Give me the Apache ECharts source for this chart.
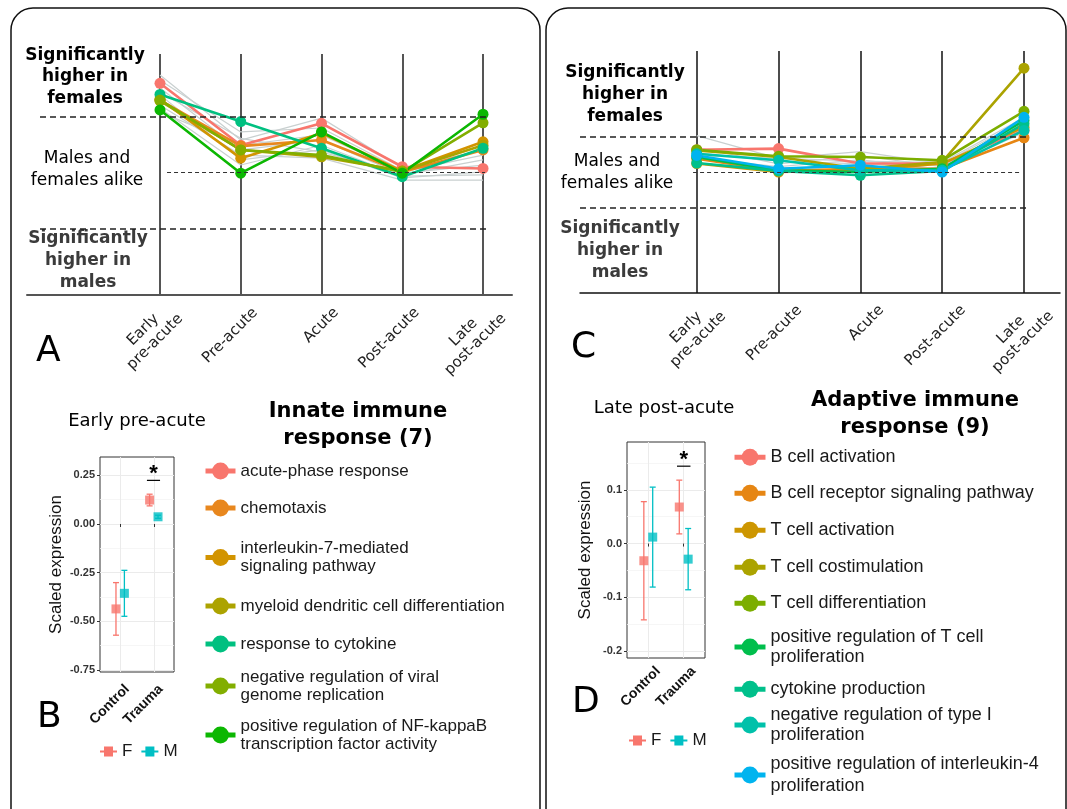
<!DOCTYPE html>
<html>
<head>
<meta charset="utf-8">
<script src="https://cdn.jsdelivr.net/npm/echarts@6/dist/echarts.min.js"></script>
<style>
html, body { margin: 0; padding: 0; background: #fff; }
#chart { width: 1067px; height: 809px; }
</style>
</head>
<body>
<div id="chart"></div>
<script>
// time points on the x axis of panels A and C
const stages = ['Early\npre-acute', 'Pre-acute', 'Acute', 'Post-acute', 'Late\npost-acute'];
// signed significance (-log10 p, + = higher in females), threshold at 1.3
const thresholds = [1.3, 0, -1.3];

const innateNames = [
  'acute-phase response',
  'chemotaxis',
  'interleukin-7-mediated\nsignaling pathway',
  'myeloid dendritic cell differentiation',
  'response to cytokine',
  'negative regulation of viral\ngenome replication',
  'positive regulation of NF-kappaB\ntranscription factor activity'
];
const innateColors = ['#F8766D', '#E8871E', '#D29400', '#ACA300', '#00C080', '#82AE00', '#0CB702'];
const innateValues = [
  [2.07, 0.63, 1.14, 0.13, 0.09],
  [1.68, 0.61, 0.75, 0.01, 0.52],
  [1.70, 0.33, 0.91, 0.03, 0.71],
  [1.66, 0.52, 0.36, 0.03, 0.63],
  [1.81, 1.18, 0.56, -0.10, 0.56],
  [1.68, 0.52, 0.40, 0.01, 1.15],
  [1.45, -0.02, 0.94, -0.02, 1.35]
];
const innateOther = [
  [2.26, 0.75, 1.26, 0.10, 0.52],
  [2.14, 0.94, 1.03, 0.05, 0.63],
  [1.96, 0.52, 0.75, -0.06, 0.29],
  [1.80, 0.29, 0.52, -0.13, 0.01],
  [1.56, 0.40, 0.33, -0.18, -0.18],
  [1.49, 0.17, 0.63, -0.09, -0.06],
  [1.40, 0.63, 0.87, 0.01, 0.40],
  [1.86, 0.79, 0.47, -0.02, 0.17]
];

const adaptiveNames = [
  'B cell activation',
  'B cell receptor signaling pathway',
  'T cell activation',
  'T cell costimulation',
  'T cell differentiation',
  'positive regulation of T cell\nproliferation',
  'cytokine production',
  'negative regulation of type I\nproliferation',
  'positive regulation of interleukin-4\nproliferation'
];
const adaptiveColors = ['#F8766D', '#E68613', '#CD9600', '#ABA300', '#7CAE00', '#00BE4C', '#00C08B', '#00C1AA', '#00B4EF'];
const adaptiveValues = [
  [0.82, 0.86, 0.31, 0.31, 1.53],
  [0.49, 0.04, 0.12, 0.12, 1.26],
  [0.31, 0.00, 0.06, 0.31, 1.65],
  [0.79, 0.55, 0.12, 0.37, 3.82],
  [0.82, 0.58, 0.55, 0.43, 2.23],
  [0.55, 0.06, 0.00, 0.12, 1.89],
  [0.33, 0.04, -0.12, 0.04, 1.77],
  [0.67, 0.43, 0.06, 0.06, 1.53],
  [0.61, 0.12, 0.25, 0.00, 2.01]
];
const adaptiveOther = [
  [1.34, 0.50, 0.75, 0.30, 1.90],
  [0.90, 0.30, 0.60, 0.20, 1.70],
  [0.70, 0.40, 0.30, 0.25, 1.60],
  [0.50, 0.20, 0.45, 0.10, 1.45],
  [0.30, 0.15, 0.20, 0.15, 1.80],
  [0.60, 0.50, 0.40, 0.35, 2.00]
];

// panels B and D: mean scaled expression +/- se
const groups = ['Control', 'Trauma'];
const sexes = ['F', 'M'];
const sexColors = ['#F8766D', '#00BFC4'];
const earlyF = [-0.436, 0.123];
const earlyFse = [0.135, 0.030];
const earlyM = [-0.356, 0.037];
const earlyMse = [0.118, 0.008];
const lateF = [-0.032, 0.068];
const lateFse = [0.110, 0.050];
const lateM = [0.012, -0.029];
const lateMse = [0.093, 0.057];
// significance bar: [centre, height, half width]
const sigEarly = [[1.99, 0.224, 0.195]];
const sigLate = [[2.0, 0.144, 0.19]];

const DV = 'DejaVu Sans';
const LS = 'Liberation Sans';

let chart = echarts.init(document.getElementById('chart'));

// centre the lines of two-line stage labels on each other
const measure = document.createElement('canvas').getContext('2d');
measure.font = '15px "DejaVu Sans"';
const stageRich = {};
stages.forEach(function (s, i) {
  const w = Math.max.apply(null, s.split('\n').map(function (l) { return measure.measureText(l).width; }));
  stageRich['s' + i] = { width: Math.ceil(w), align: 'center', fontFamily: DV, fontSize: 15, lineHeight: 17, color: '#222' };
});

function stageX(gridIndex, min, max, color, width, margin, shift) {
  return {
    gridIndex: gridIndex, type: 'value', min: min, max: max, position: 'bottom',
    axisLine: { show: true, onZero: false, lineStyle: { color: color, width: width } },
    axisTick: { show: false, customValues: [1, 2, 3, 4, 5] },
    axisLabel: {
      customValues: [1, 2, 3, 4, 5],
      formatter: function (v) {
        const i = Math.round(v) - 1;
        return stages[i].split('\n').map(function (l) { return '{s' + i + '|' + l + '}'; }).join('\n');
      },
      rich: stageRich,
      rotate: 45, margin: margin, padding: [0, -shift, 0, 0],
      fontFamily: DV, fontSize: 15, lineHeight: 17, color: '#222'
    },
    splitLine: { show: true, lineStyle: { color: color, width: width } }
  };
}

function groupX(gridIndex, margin, shift) {
  return {
    gridIndex: gridIndex, type: 'value', min: 0.4, max: 2.6,
    axisLine: { show: false },
    axisTick: { show: true, length: 3, customValues: [1, 2], lineStyle: { color: '#333' } },
    axisLabel: {
      customValues: [1, 2],
      formatter: function (v) { return groups[Math.round(v) - 1]; },
      rotate: 45, margin: margin, padding: [0, -shift, 0, 0],
      fontFamily: LS, fontSize: 14, fontWeight: 'bold', color: '#111'
    },
    splitLine: { show: true, lineStyle: { color: '#ebebeb', width: 1 } }
  };
}

function exprY(gridIndex, min, max, ticks, digits, gap) {
  return {
    gridIndex: gridIndex, type: 'value', min: min, max: max,
    name: 'Scaled expression', nameLocation: 'middle', nameGap: gap, nameRotate: 90,
    nameTextStyle: { fontFamily: LS, fontSize: 17, color: '#111' },
    axisLine: { show: false },
    axisTick: { show: true, length: 3, customValues: ticks, lineStyle: { color: '#333' } },
    axisLabel: {
      customValues: ticks, margin: 5,
      formatter: function (v) { return v.toFixed(digits); },
      fontFamily: LS, fontSize: 11, fontWeight: 'bold', color: '#333'
    },
    splitLine: { show: true, lineStyle: { color: '#ebebeb', width: 1 } }
  };
}

function minorY(gridIndex, min, max, ticks) {
  return {
    gridIndex: gridIndex, type: 'value', min: min, max: max, position: 'right',
    axisLine: { show: false },
    axisTick: { show: false, customValues: ticks },
    axisLabel: { show: false, customValues: ticks },
    splitLine: { show: true, lineStyle: { color: '#f4f4f4', width: 0.8 } }
  };
}

function trendSeries(name, vals, color, axis, grey) {
  return {
    type: 'line', name: name, xAxisIndex: axis, yAxisIndex: axis,
    data: vals.map(function (v, i) { return [i + 1, v]; }),
    symbol: grey ? 'none' : 'circle', symbolSize: 11,
    lineStyle: { color: color, width: grey ? 1.2 : 2.6 },
    itemStyle: { color: color },
    silent: grey, z: grey ? 2 : 3
  };
}

function refLines(spans) {
  const styles = [
    { type: [6, 4], width: 1.5, color: '#222' },
    { type: [4, 3], width: 1.2, color: '#333' },
    { type: [6, 4], width: 1.5, color: '#222' }
  ];
  return {
    silent: true, symbol: 'none', label: { show: false },
    data: thresholds.map(function (t, i) {
      return [{ coord: [spans[i][0], t], lineStyle: styles[i] }, { coord: [spans[i][1], t] }];
    })
  };
}

function renderErr(params, api) {
  const x = api.value(0);
  const p1 = api.coord([x, api.value(1)]);
  const p2 = api.coord([x, api.value(2)]);
  const w = 3;
  const style = { stroke: api.visual('color'), lineWidth: 1.3 };
  return {
    type: 'group', children: [
      { type: 'line', shape: { x1: p1[0], y1: p1[1], x2: p2[0], y2: p2[1] }, style: style },
      { type: 'line', shape: { x1: p1[0] - w, y1: p1[1], x2: p1[0] + w, y2: p1[1] }, style: style },
      { type: 'line', shape: { x1: p2[0] - w, y1: p2[1], x2: p2[0] + w, y2: p2[1] }, style: style }
    ]
  };
}

function renderSig(params, api) {
  const c = api.value(0), h = api.value(2);
  const a = api.coord([c - h, api.value(1)]);
  const b = api.coord([c + h, api.value(1)]);
  return {
    type: 'group', children: [
      { type: 'line', shape: { x1: a[0], y1: a[1], x2: b[0], y2: b[1] }, style: { stroke: '#000', lineWidth: 1.2 } },
      { type: 'text', style: { text: '*', x: (a[0] + b[0]) / 2, y: a[1] + 5, textAlign: 'center', textVerticalAlign: 'bottom', font: 'bold 22px ' + LS, fill: '#000' } }
    ]
  };
}

function sexSeries(axis, means, sig) {
  const out = [];
  const dodge = [-0.125, 0.125];
  means.forEach(function (m, s) {
    out.push({
      type: 'custom', name: sexes[s], xAxisIndex: axis, yAxisIndex: axis,
      renderItem: renderErr, itemStyle: { color: sexColors[s] },
      encode: { x: 0, y: [1, 2] },
      data: m[0].map(function (v, g) { return [g + 1 + dodge[s], v - m[1][g], v + m[1][g]]; }),
      z: 3
    });
  });
  means.forEach(function (m, s) {
    out.push({
      type: 'scatter', name: sexes[s], xAxisIndex: axis, yAxisIndex: axis,
      symbol: 'rect', symbolSize: 9, itemStyle: { color: sexColors[s] },
      data: m[0].map(function (v, g) { return [g + 1 + dodge[s], v]; }),
      z: 4
    });
  });
  out.push({
    type: 'custom', name: 'sig', xAxisIndex: axis, yAxisIndex: axis,
    renderItem: renderSig, encode: { x: 0, y: 1 }, clip: false,
    data: sig, silent: true, z: 5
  });
  return out;
}

let series = [];
innateOther.forEach(function (v, i) {
  const s = trendSeries('other innate ' + i, v, '#c9d0d0', 0, true);
  if (i === 0) s.markLine = refLines([[-0.486, 5.087], [1.087, 5.025], [-0.486, 5.05]]);
  series.push(s);
});
innateValues.forEach(function (v, i) { series.push(trendSeries(innateNames[i], v, innateColors[i], 0, false)); });
adaptiveOther.forEach(function (v, i) {
  const s = trendSeries('other adaptive ' + i, v, '#c9d0d0', 2, true);
  if (i === 0) s.markLine = refLines([[-0.427, 5.04], [0.955, 4.95], [-0.427, 5.04]]);
  series.push(s);
});
adaptiveValues.forEach(function (v, i) { series.push(trendSeries(adaptiveNames[i], v, adaptiveColors[i], 2, false)); });
series = series.concat(sexSeries(1, [[earlyF, earlyFse], [earlyM, earlyMse]], sigEarly));
series = series.concat(sexSeries(3, [[lateF, lateFse], [lateM, lateMse]], sigLate));

// legends, one component per row so rows sit where the reference has them
const innateRowY = [472.5, 509.5, 557.5, 607.5, 645.5, 686, 735];
const adaptiveRowY = [458, 494, 531, 568, 604, 647, 690, 725, 775];
function rowLegend(name, centreY, left, iconW, gap, size, lh) {
  const lines = name.split('\n').length;
  return {
    data: [name], left: left, top: centreY - Math.max(21, lines * lh) / 2, padding: 0,
    itemWidth: iconW, itemHeight: 21, itemGap: 0, textGap: gap, selectedMode: false,
    lineStyle: { width: 5 },
    textStyle: { fontFamily: LS, fontSize: size, lineHeight: lh, color: '#1a1a1a' }
  };
}
let legends = [];
innateNames.forEach(function (n, i) { legends.push(rowLegend(n, innateRowY[i], 203, 30, 8, 17, 18)); });
adaptiveNames.forEach(function (n, i) {
  legends.push(rowLegend(n, adaptiveRowY[i], 732, 31, 10, 18, i === adaptiveNames.length - 1 ? 21.5 : 19.5));
});
const sexIcon = 'path://M0,4H4V0H13V4H17V6H13V10H4V6H0Z';
[[100, 743], [629, 732]].forEach(function (p) {
  legends.push({
    data: sexes.map(function (s) { return { name: s, icon: sexIcon }; }),
    left: p[0], top: p[1], padding: 0, itemWidth: 17, itemHeight: 10, itemGap: 9, textGap: 4,
    selectedMode: false,
    textStyle: { fontFamily: LS, fontSize: 17, color: '#1a1a1a' }
  });
});

function label(text, x, y, opts) {
  return {
    type: 'text', silent: true,
    style: Object.assign({
      text: text, x: x, y: y, textAlign: 'center', textVerticalAlign: 'middle',
      font: '17px ' + DV, lineHeight: 22, fill: '#000'
    }, opts || {})
  };
}

const graphics = [
  { type: 'rect', silent: true, shape: { x: 11, y: 8, width: 529, height: 840, r: 22 }, style: { fill: 'none', stroke: '#111', lineWidth: 1.5 } },
  { type: 'rect', silent: true, shape: { x: 546, y: 8, width: 520, height: 840, r: 22 }, style: { fill: 'none', stroke: '#111', lineWidth: 1.5 } },
  label('Significantly\nhigher in\nfemales', 85, 77, { font: 'bold 17px ' + DV, lineHeight: 21.5 }),
  label('Males and\nfemales alike', 87, 169.5),
  label('Significantly\nhigher in\nmales', 88, 260.5, { font: 'bold 17px ' + DV, fill: '#3b3b3b' }),
  label('Significantly\nhigher in\nfemales', 625, 94.5, { font: 'bold 17px ' + DV, lineHeight: 22 }),
  label('Males and\nfemales alike', 617, 173),
  label('Significantly\nhigher in\nmales', 620, 250.7, { font: 'bold 17px ' + DV, fill: '#3b3b3b' }),
  label('Early pre-acute', 137, 421, { font: '18px ' + DV }),
  label('Innate immune\nresponse (7)', 358, 425.5, { font: 'bold 21px ' + DV, lineHeight: 27 }),
  label('Late post-acute', 664, 408, { font: '18px ' + DV }),
  label('Adaptive immune\nresponse (9)', 915, 414.5, { font: 'bold 21px ' + DV, lineHeight: 27 }),
  label('A', 36, 352, { font: '36px ' + DV, textAlign: 'left' }),
  label('B', 37, 718, { font: '36px ' + DV, textAlign: 'left' }),
  label('C', 571, 348, { font: '36px ' + DV, textAlign: 'left' }),
  label('D', 572, 703, { font: '36px ' + DV, textAlign: 'left' })
];

let option = {
  animation: false,
  backgroundColor: '#fff',
  grid: [
    { left: 27, top: 54, width: 485, height: 241 },
    { left: 100, top: 457, width: 74, height: 215, show: true, borderColor: '#333', borderWidth: 1, backgroundColor: '#fff', z: 0 },
    { left: 580, top: 51, width: 480, height: 242 },
    { left: 627, top: 442, width: 78, height: 216, show: true, borderColor: '#333', borderWidth: 1, backgroundColor: '#fff', z: 0 }
  ],
  xAxis: [
    stageX(0, -0.647, 5.359, '#555', 2, 30, 21),
    groupX(1, 22, 10),
    stageX(2, -0.427, 5.44, '#111', 1.5, 36, 30),
    groupX(3, 21, 14)
  ],
  yAxis: [
    { gridIndex: 0, type: 'value', min: -2.85, max: 2.75, show: false },
    exprY(1, -0.76, 0.344, [-0.75, -0.5, -0.25, 0, 0.25], 2, 35),
    { gridIndex: 2, type: 'value', min: -4.45, max: 4.45, show: false },
    exprY(3, -0.213, 0.189, [-0.2, -0.1, 0, 0.1], 1, 33),
    minorY(1, -0.76, 0.344, [-0.625, -0.375, -0.125, 0.125]),
    minorY(3, -0.213, 0.189, [-0.15, -0.05, 0.05, 0.15])
  ],
  legend: legends,
  graphic: graphics,
  series: series
};
chart.setOption(option);
</script>
</body>
</html>
